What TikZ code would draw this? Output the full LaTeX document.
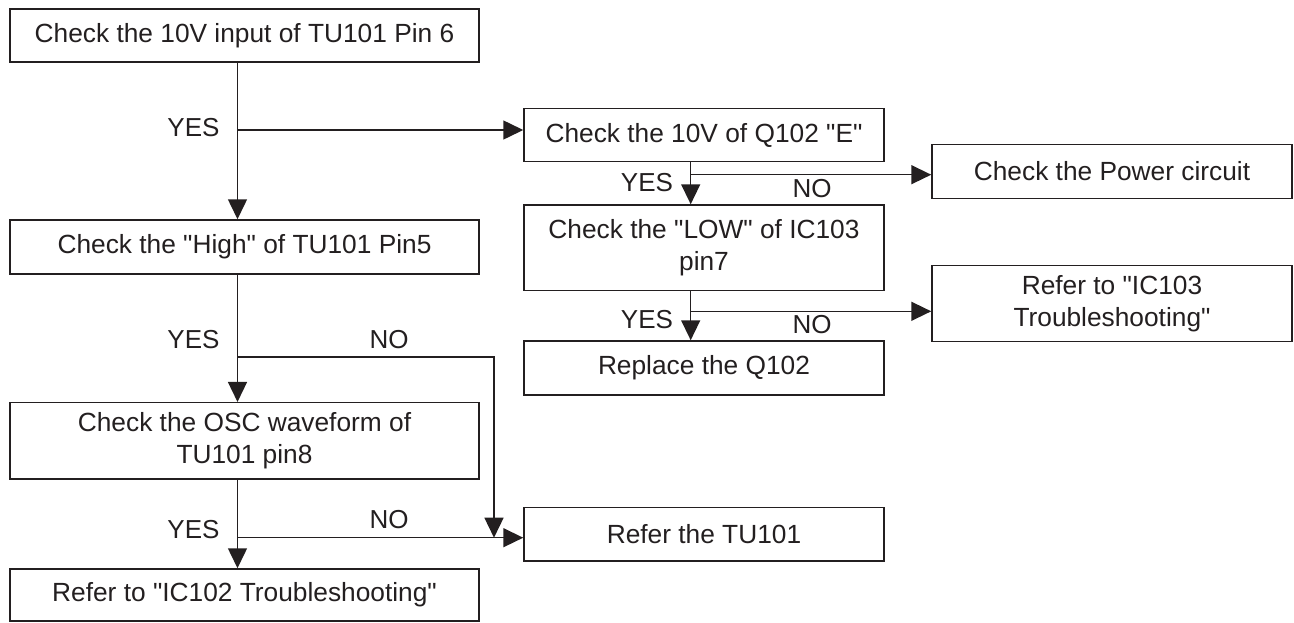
\documentclass[tikz,border=0pt]{standalone}
\usepackage{fontspec}
\newfontfamily\diagfont{Liberation Sans}
\usetikzlibrary{arrows.meta}
\definecolor{ink}{HTML}{231F20}
\tikzset{
  box/.style={draw=ink, line width=1.5pt, inner sep=0pt, align=center,
    font=\diagfont\fontsize{26.3}{31.5}\selectfont, text=ink},
  lbl/.style={inner sep=0pt, font=\diagfont\fontsize{26}{31}\selectfont, text=ink},
  conn/.style={draw=ink, line width=1.5pt},
  arr/.style={conn, -{Triangle[length=20pt 0 0, width=19pt 0 0]}},
}
\begin{document}
\begin{tikzpicture}[x=1pt, y=-1pt]
\useasboundingbox (0,0) rectangle (1294,622);
% left column
\node[box, minimum width=469pt, minimum height=53pt] (A) at (244.5,35.5) {Check the 10V input of TU101 Pin 6};
\node[box, minimum width=469pt, minimum height=54pt] (B) at (244.5,247) {Check the "High" of TU101 Pin5};
\node[box, minimum width=469pt, minimum height=76.3pt] (C) at (244.5,440.85) {Check the OSC waveform of\\TU101 pin8};
\node[box, minimum width=469pt, minimum height=52pt] (D) at (244.5,595) {Refer to "IC102 Troubleshooting"};
% middle column
\node[box, minimum width=360pt, minimum height=53.4pt] (E) at (704,135) {Check the 10V of Q102 "E"};
\node[box, minimum width=360pt, minimum height=85.7pt] (G) at (704,247.85) {Check the "LOW" of IC103\\pin7};
\node[box, minimum width=360pt, minimum height=54pt] (I) at (704,368) {Replace the Q102};
\node[box, minimum width=360pt, minimum height=53.5pt] (J) at (704,534.25) {Refer the TU101};
% right column
\node[box, minimum width=360pt, minimum height=53.6pt] (F) at (1112,171.5) {Check the Power circuit};
\node[box, minimum width=360pt, minimum height=76pt] (H) at (1112,303.7) {Refer to "IC103\\Troubleshooting"};

% branch points
\coordinate (t1) at (237.5,130);
\coordinate (t2) at (237.5,357);
\coordinate (c2) at (494,357);
\coordinate (t3) at (237.5,537.7);
\coordinate (m1) at (690.7,174.7);
\coordinate (m2) at (690.7,311.3);

% left trunk
\draw[arr] (A.south -| t1) -- (B.north -| t1);
\draw[arr] (t1) -- (t1 -| E.west);
\draw[arr] (B.south -| t2) -- (C.north -| t2);
\draw[arr] (t2) -- (c2) -- (c2 |- t3);
\draw[arr] (C.south -| t3) -- (D.north -| t3);
\draw[arr] (t3) -- (t3 -| J.west);
% middle trunk
\draw[arr] (E.south -| m1) -- (G.north -| m1);
\draw[arr] (m1) -- (m1 -| F.west);
\draw[arr] (G.south -| m2) -- (I.north -| m2);
\draw[arr] (m2) -- (m2 -| H.west);

% labels
\node[lbl] (y1) at (193.5,128) {YES};
\node[lbl] (y2) at (193.5,340) {YES};
\node[lbl] (n2) at (389,340) {NO};
\node[lbl] (y3) at (193.5,529.3) {YES};
\node[lbl] (n3) at (389,520) {NO};
\node[lbl] (y4) at (647,182.7) {YES};
\node[lbl] (n4) at (812,188.3) {NO};
\node[lbl] (y5) at (647,319.3) {YES};
\node[lbl] (n5) at (812,324.3) {NO};
\end{tikzpicture}
\end{document}
